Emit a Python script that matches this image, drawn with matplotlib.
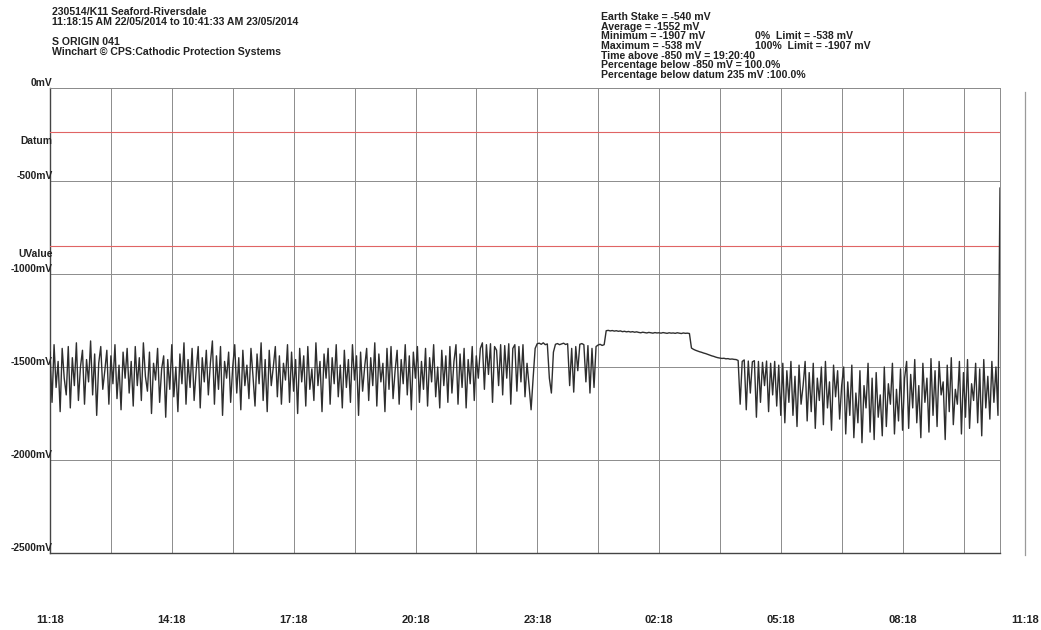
import numpy as np
import matplotlib.pyplot as plt
from matplotlib.transforms import blended_transform_factory

plt.rcParams['font.family'] = ['Liberation Sans', 'DejaVu Sans']

# logging period: 11:18:15 22/05/2014 -> 10:41:33 23/05/2014 (hours)
duration = 23 + 23/60 + 18/3600

# readings in mV, split by the visible phases
v_day = [
    -1420, -1690, -1380, -1610, -1470, -1740, -1400, -1560, -1650, -1390, -1720, -1450, -1600, -1370, -1680, -1500, -1410, -1700, -1460, -1580,
    -1360, -1650, -1430, -1760, -1480, -1390, -1620, -1520, -1410, -1700, -1440, -1590, -1380, -1670, -1490, -1730, -1420, -1560, -1400, -1640,
    -1470, -1710, -1390, -1600, -1450, -1680, -1370, -1550, -1630, -1420, -1750, -1480, -1570, -1400, -1690, -1510, -1440, -1770, -1460, -1620,
    -1380, -1660, -1500, -1740, -1430, -1590, -1370, -1700, -1460, -1610, -1400, -1680, -1520, -1390, -1720, -1450, -1580, -1410, -1650, -1480,
    -1360, -1700, -1440, -1620, -1390, -1760, -1470, -1560, -1420, -1690, -1500, -1380, -1640, -1450, -1730, -1410, -1600, -1490, -1670, -1400,
    -1550, -1710, -1430, -1590, -1370, -1680, -1460, -1740, -1410, -1600, -1500, -1390, -1660, -1440, -1700, -1480, -1570, -1380, -1690, -1420,
    -1630, -1460, -1750, -1400, -1580, -1440, -1710, -1390, -1620, -1510, -1680, -1370, -1600, -1470, -1740, -1430, -1560, -1400, -1700, -1450,
    -1590, -1380, -1660, -1490, -1720, -1410, -1610, -1460, -1690, -1380, -1570, -1440, -1760, -1420, -1630, -1500, -1400, -1680, -1450, -1600,
    -1370, -1710, -1430, -1580, -1480, -1740, -1400, -1620, -1390, -1670, -1520, -1410, -1700, -1460, -1590, -1380, -1650, -1440, -1730, -1420,
    -1560, -1390, -1690, -1470, -1620, -1400, -1710, -1450, -1580, -1380, -1660, -1500, -1720, -1410, -1600, -1440, -1690, -1390, -1640, -1470,
    -1380, -1700, -1430, -1610, -1400, -1720, -1460, -1590, -1390, -1680, -1440, -1560, -1400,
]
v_evening = [
    -1370, -1620, -1380, -1540, -1375, -1690, -1390, -1410, -1600, -1380, -1650, -1385, -1560, -1375, -1700, -1400, -1380, -1630, -1390, -1580, -1380, -1660,
    -1480, -1600, -1730, -1560, -1400,
    -1375, -1372, -1378, -1370, -1380, -1376,
    -1560, -1640, -1420,
    -1378, -1374, -1380, -1376, -1372, -1379, -1375,
    -1600, -1400, -1635, -1390, -1520,
    -1378, -1374, -1380,
    -1580, -1385, -1640, -1400, -1610, -1390,
    -1382, -1378, -1384, -1380,
]
v_night = [
    -1305, -1303, -1306, -1304, -1307, -1305, -1308, -1306, -1310, -1308, -1311, -1309, -1312, -1310,
    -1313, -1311, -1314, -1316, -1313, -1315, -1317, -1314, -1316, -1318, -1315, -1317, -1316, -1318,
    -1315, -1317, -1319, -1316, -1318, -1317, -1319, -1316, -1318, -1320, -1317, -1319, -1318, -1320,
]
v_drop = [
    -1398, -1405, -1410, -1414, -1418, -1421, -1425, -1428, -1432, -1436, -1440, -1443,
    -1447, -1450, -1452, -1454, -1453, -1456, -1455, -1458, -1457, -1459, -1460,
]
v_morning = [
    -1465, -1700, -1470, -1462, -1730, -1468, -1640, -1472, -1466, -1770, -1470, -1690, -1475, -1600, -1468, -1740, -1480, -1650, -1470, -1710, -1490, -1760,
    -1480, -1800, -1520, -1690, -1470, -1760, -1550, -1820, -1490, -1700, -1600, -1470, -1790, -1530, -1740,
    -1480, -1830, -1560, -1680, -1500, -1810, -1470, -1720, -1580, -1840, -1490, -1660, -1520, -1780, -1600,
    -1500, -1860, -1580, -1760, -1490, -1880, -1640, -1800, -1520, -1907, -1600, -1720, -1480, -1850, -1560, -1890,
    -1530, -1770, -1650, -1870, -1500, -1820, -1590, -1700, -1480, -1860, -1620, -1790, -1510, -1840, -1560,
    -1470, -1830, -1540, -1720, -1460, -1800, -1600, -1880, -1480, -1690, -1560, -1850, -1455, -1760, -1520, -1820,
    -1470, -1650, -1580, -1890, -1490, -1740, -1450, -1810, -1620, -1700, -1470, -1860, -1530, -1770, -1460, -1830,
    -1590, -1680, -1480, -1800, -1510, -1870, -1460, -1720, -1550, -1780, -1470, -1690, -1500, -1760,
    -538,
]

datum_mv = -235
uvalue_mv = -850
y_ticks = [0, -500, -1000, -1500, -2000, -2500]
y_labels = ['0mV', '-500mV', '-1000mV', '-1500mV', '-2000mV', '-2500mV']
time_labels = ['11:18', '14:18', '17:18', '20:18', '23:18', '02:18', '05:18', '08:18', '11:18']

header_left = [
    '230514/K11 Seaford-Riversdale',
    '11:18:15 AM 22/05/2014 to 10:41:33 AM 23/05/2014',
    '',
    'S ORIGIN 041',
    'Winchart \u00a9 CPS:Cathodic Protection Systems',
]
header_right = [
    'Earth Stake = -540 mV',
    'Average = -1552 mV',
    'Minimum = -1907 mV',
    'Maximum = -538 mV',
    'Time above -850 mV = 19:20:40',
    'Percentage below -850 mV = 100.0%',
    'Percentage below datum 235 mV :100.0%',
]
limits = ['0%  Limit = -538 mV', '100%  Limit = -1907 mV']

values = np.array(v_day + v_evening + v_night + v_drop + v_morning)
t = np.linspace(0, duration, len(values))

W, H = 1041, 630
fig = plt.figure(figsize=(W / 100, H / 100), dpi=100)
ax = fig.add_axes([50 / W, 1 - 553 / H, 950 / W, 465 / H])
ax.set_xlim(0, duration)
ax.set_ylim(-2500, 0)

ax.set_xticks(np.arange(0, duration, 1.5))
ax.set_yticks(y_ticks)
ax.tick_params(length=0, labelbottom=False, labelleft=False)
ax.grid(True, color='#8c8c8c', lw=0.7)
for s in ['top', 'right']:
    ax.spines[s].set_color('#8c8c8c')
    ax.spines[s].set_linewidth(0.7)
for s in ['left', 'bottom']:
    ax.spines[s].set_color('#444444')
    ax.spines[s].set_linewidth(1.0)

ax.axhline(datum_mv, color='#e06464', lw=0.8, zorder=3)
ax.axhline(uvalue_mv, color='#e06464', lw=0.8, zorder=3)
ax.plot(t, values, color='#2e2e2e', lw=1.0, zorder=4)

# extra marker line at the next 11:18, outside the frame
ax.plot([24, 24], [-20, -2510], color='#9a9a9a', lw=0.9, clip_on=False)

lbl = dict(fontsize=7.6, fontweight='bold', color='#222222')
ylbl = dict(fontsize=7.4, fontweight='bold', color='#222222')
ytr = blended_transform_factory(ax.transAxes, ax.transData)
for v, s in zip(y_ticks, y_labels):
    ax.text(0.003, v, s, transform=ytr, ha='right', va='bottom', **ylbl)
ax.text(0.003, datum_mv - 25, 'Datum', transform=ytr, ha='right', va='top', **ylbl)
ax.text(0.003, uvalue_mv - 15, 'UValue', transform=ytr, ha='right', va='top', **ylbl)

xtr = blended_transform_factory(ax.transData, fig.transFigure)
for i, s in enumerate(time_labels):
    ax.text(i * 3, 1 - 620 / H, s, transform=xtr, ha='center', va='center',
            fontsize=8, fontweight='bold', color='#222222')

for i, s in enumerate(header_left):
    fig.text(52 / W, 1 - (12 + i * 10) / H, s, ha='left', va='center', **lbl)
for i, s in enumerate(header_right):
    fig.text(601 / W, 1 - (17 + i * 9.7) / H, s, ha='left', va='center', **lbl)
for i, s in enumerate(limits):
    fig.text(755 / W, 1 - (36.4 + i * 9.7) / H, s, ha='left', va='center', **lbl)

fig.savefig('out.png', dpi=100)
